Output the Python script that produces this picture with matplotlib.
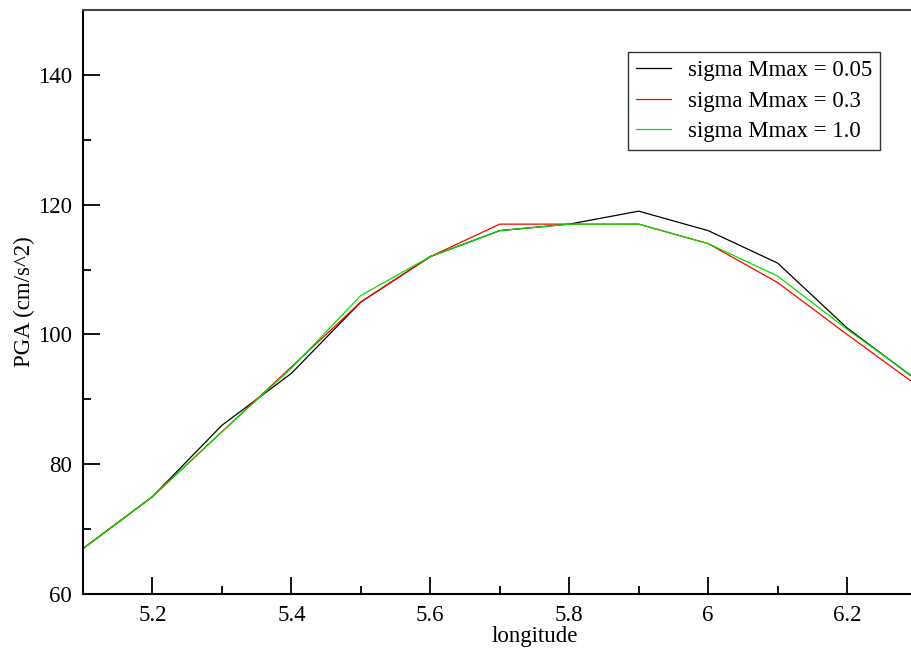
import matplotlib
matplotlib.use("Agg")
import matplotlib.pyplot as plt
from matplotlib.ticker import MultipleLocator

# longitude samples
lon = [5.1, 5.2, 5.3, 5.4, 5.5, 5.6, 5.7, 5.8, 5.9, 6.0, 6.1, 6.2, 6.3]

# PGA values for each sigma Mmax
pga_005 = [67, 75, 86, 94, 105, 112, 116, 117, 119, 116, 111, 101, 93]
pga_03 = [67, 75, 85, 95, 105, 112, 117, 117, 117, 114, 108, 100, 92.2]
pga_10 = [67, 75, 85, 94.8, 106, 112, 116, 117, 117, 114, 109, 100.8, 93.1]

labels = ["sigma Mmax = 0.05", "sigma Mmax = 0.3", "sigma Mmax = 1.0"]
colors = ["black", "#ff0000", "#00e000"]

plt.rcParams['font.family'] = ['Liberation Serif', 'DejaVu Serif']
plt.rcParams['font.size'] = 16.5

fig = plt.figure(figsize=(9.12, 6.52), dpi=100)
# axes run past the right edge, as in the reference
ax = fig.add_axes([83 / 912, 58 / 652, 903 / 912, 584 / 652])

for y, lab, c in zip([pga_005, pga_03, pga_10], labels, colors):
    ax.plot(lon, y, color=c, lw=0.9, label=lab)

ax.set_xlim(5.1, 6.4)
ax.set_ylim(60, 150)
ax.xaxis.set_minor_locator(MultipleLocator(0.1))
ax.yaxis.set_major_locator(MultipleLocator(20))
ax.yaxis.set_minor_locator(MultipleLocator(10))
ax.set_xticks([5.2, 5.4, 5.6, 5.8, 6.0, 6.2])
ax.set_xticklabels(["5.2", "5.4", "5.6", "5.8", "6", "6.2"])

ax.tick_params(which='both', direction='in', top=False, right=False, width=1.3)
ax.tick_params(which='major', length=12, pad=8)
ax.tick_params(which='minor', length=6)

for s in ax.spines.values():
    s.set_linewidth(1.5)
ax.spines['top'].set_color('#444444')

ax.set_xlabel("longitude", labelpad=0)
ax.set_ylabel("PGA (cm/s^2)", labelpad=2)

leg = ax.legend(loc='upper right', bbox_to_anchor=(880 / 912, 600 / 652),
                bbox_transform=fig.transFigure, frameon=True, fancybox=False,
                edgecolor='black', handlelength=1.5, handletextpad=0.75,
                labelspacing=0.42, borderpad=0.35, borderaxespad=0)
leg.get_frame().set_linewidth(1.0)

fig.savefig("out.png", dpi=100)
